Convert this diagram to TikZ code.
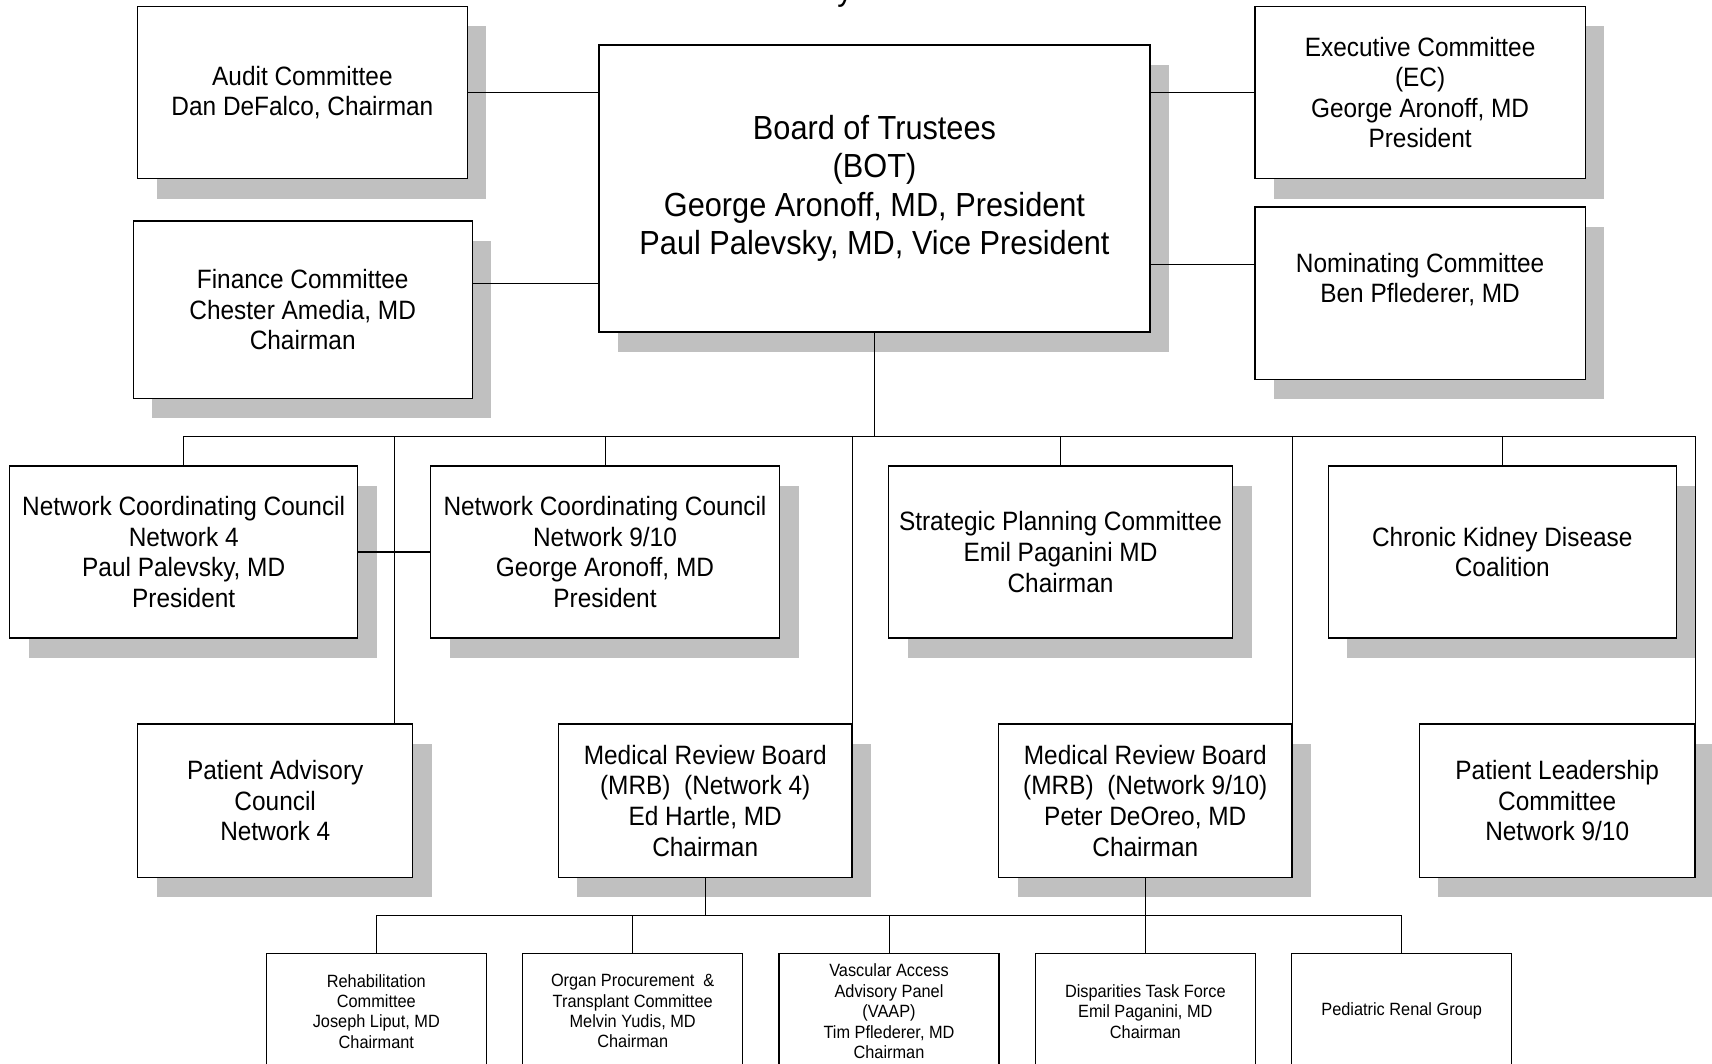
\documentclass[tikz,border=0pt]{standalone}
\usepackage{fontspec}
\setmainfont{Liberation Sans}[FakeStretch=0.92]
\usetikzlibrary{calc,shadows}

\definecolor{shade}{RGB}{192,192,192}
\tikzset{
  box/.style={draw, fill=white, line width=0.7pt, inner sep=0pt, align=center,
    general shadow={fill=shade, shadow xshift=3.8mm, shadow yshift=-4mm}},
  flatbox/.style={draw, fill=white, line width=0.7pt, inner sep=0pt, align=center},
  link/.style={line width=0.55pt},
  bigfont/.style={font=\fontsize{19}{21.9}\selectfont},
  midfont/.style={font=\fontsize{15.1}{17.4}\selectfont},
  smallfont/.style={font=\fontsize{10.1}{11.6}\selectfont}
}

\begin{document}
\begin{tikzpicture}[x=0.2mm,y=-0.2mm]
        \useasboundingbox (0,0) rectangle (1712,1064);
        \node[bigfont, anchor=base] (title) at (845,1) {y};
        \node[box, bigfont, line width=1pt, minimum width=110.1mm, minimum height=57.5mm] (board) at (874.5,188.4)
            {Board of Trustees\\(BOT)\\George Aronoff, MD, President\\Paul Palevsky, MD, Vice President};
        \node[box, midfont, minimum width=65.9mm, minimum height=34.5mm] (audit) at (302.4,92.4)
            {Audit Committee\\Dan DeFalco, Chairman};
        \node[box, midfont, minimum width=67.8mm, minimum height=35.5mm] (finance) at (302.7,309.7)
            {Finance Committee\\Chester Amedia, MD\\Chairman};
        \node[box, midfont, minimum width=66mm, minimum height=34.5mm] (exec) at (1420.1,92.4)
            {Executive Committee\\(EC)\\George Aronoff, MD\\President};
        \node[box, midfont, minimum width=66mm, minimum height=34.5mm] (nominating) at (1420.1,293.2)
            {Nominating Committee\\Ben Pflederer, MD\\~};
        \node[box, midfont, minimum width=69.6mm, minimum height=34.4mm] (ncc4) at (183.7,552)
            {Network Coordinating Council\\Network 4\\Paul Palevsky, MD\\President};
        \node[box, midfont, minimum width=69.8mm, minimum height=34.4mm] (ncc9) at (605,552)
            {Network Coordinating Council\\Network 9/10\\George Aronoff, MD\\President};
        \node[box, midfont, minimum width=68.8mm, minimum height=34.4mm] (strategic) at (1060.5,552)
            {Strategic Planning Committee\\Emil Paganini MD\\Chairman};
        \node[box, midfont, minimum width=69.6mm, minimum height=34.4mm] (ckd) at (1502.3,552)
            {Chronic Kidney Disease\\Coalition};
        \node[box, midfont, minimum width=55mm, minimum height=30.7mm] (pac) at (275.2,800.7)
            {Patient Advisory\\Council\\Network 4};
        \node[box, midfont, minimum width=58.7mm, minimum height=30.7mm] (mrb4) at (705.2,800.7)
            {Medical Review Board\\(MRB)~~(Network 4)\\Ed Hartle, MD\\Chairman};
        \node[box, midfont, minimum width=58.7mm, minimum height=30.7mm] (mrb9) at (1145.3,800.7)
            {Medical Review Board\\(MRB)~~(Network 9/10)\\Peter DeOreo, MD\\Chairman};
        \node[box, midfont, minimum width=55.1mm, minimum height=30.7mm] (plc) at (1557.2,800.7)
            {Patient Leadership\\Committee\\Network 9/10};
        \node[flatbox, smallfont, minimum width=44mm, minimum height=23.2mm] (rehab) at (376.3,1011.3)
            {Rehabilitation\\Committee\\Joseph Liput, MD\\Chairmant};
        \node[flatbox, smallfont, minimum width=44mm, minimum height=23.2mm] (organ) at (632.7,1011.3)
            {Organ Procurement~~\&\\Transplant Committee\\Melvin Yudis, MD\\Chairman};
        \node[flatbox, smallfont, minimum width=44mm, minimum height=23.2mm] (vaap) at (889,1011.3)
            {Vascular Access\\Advisory Panel\\(VAAP)\\Tim Pflederer, MD\\Chairman};
        \node[flatbox, smallfont, minimum width=44mm, minimum height=23.2mm] (disparities) at (1145.3,1011.3)
            {Disparities Task Force\\Emil Paganini, MD\\Chairman};
        \node[flatbox, smallfont, minimum width=44mm, minimum height=23.2mm] (pediatric) at (1401.7,1011.3)
            {Pediatric Renal Group};
        \coordinate (bus) at (874.5,436.7);
        \coordinate (mrbbus) at (705.2,915.5);
        \draw[link] (audit.east) -- (audit.east -| board.west);
        \draw[link] ([yshift=5.2mm]finance.east) -- ([yshift=5.2mm]finance.east -| board.west);
        \draw[link] (exec.west) -- (exec.west -| board.east);
        \draw[link] ([yshift=5.7mm]nominating.west) -- ([yshift=5.7mm]nominating.west -| board.east);
        \draw[link] (board.south) -- (bus);
        \draw[link] (ncc4.north) |- (bus) -| (plc.north east);
        \foreach \n in {ncc9,strategic,ckd}
            \draw[link] (\n.north) -- (\n.north |- bus);
        \foreach \n in {mrb4,mrb9}
            \draw[link] (\n.north east) -- (\n.north east |- bus);
        \draw[link] ([xshift=-3.7mm]pac.north east) -- ([xshift=-3.7mm]pac.north east |- bus);
        \draw[link, line width=1.1pt] (ncc4.east) -- (ncc9.west);
        \draw[link] (mrb4.south) -- (mrbbus);
        \draw[link] (rehab.north) |- (mrbbus) -| (pediatric.north);
        \foreach \n in {organ,vaap}
            \draw[link] (\n.north) -- (\n.north |- mrbbus);
        \draw[link] (mrb9.south) -- (disparities.north);
    \end{tikzpicture}
\end{document}
